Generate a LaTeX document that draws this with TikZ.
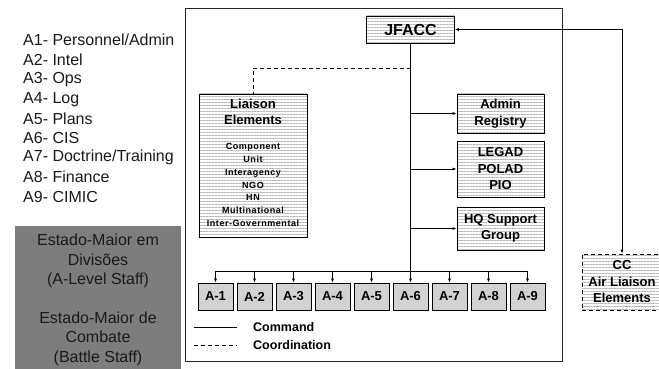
\documentclass[tikz,border=0pt]{standalone}
\usepackage{fontspec}
\setmainfont{Liberation Sans}
\usetikzlibrary{arrows.meta,patterns.meta}
\definecolor{staffgray}{HTML}{7D7D7D}
\definecolor{abgray}{HTML}{D2D2D2}
\definecolor{ink}{HTML}{1A1A1A}
\begin{document}
\begin{tikzpicture}[x=1pt,y=-1pt,
  stripe/.style={draw=black,line width=0.9pt,
    pattern={Lines[angle=0,distance=3pt,line width=0.7pt]},pattern color=black!28,
    inner sep=0pt,align=center,font=\bfseries\fontsize{13}{16.5}\selectfont},
  abox/.style={draw=black,line width=0.9pt,fill=abgray,minimum width=35pt,
    minimum height=27pt,inner sep=0pt,font=\bfseries\fontsize{13}{16}\selectfont},
  arr/.style={-{Latex[length=4pt,width=3pt]},line width=0.7pt},
  arrboth/.style={{Latex[length=4pt,width=3pt]}-{Latex[length=4pt,width=3pt]},line width=0.7pt},
  cmd/.style={line width=0.7pt},
  crd/.style={line width=0.7pt,dash pattern=on 4pt off 3pt},
  listtxt/.style={anchor=west,inner sep=0pt,text=ink,font=\fontsize{16}{19}\selectfont},
  stafftxt/.style={align=center,inner sep=0pt,text=ink,font=\fontsize{16}{19.5}\selectfont},
  legtxt/.style={anchor=west,inner sep=0pt,font=\bfseries\fontsize{12.5}{15}\selectfont}]
\useasboundingbox (0,0) rectangle (659,369);

% left list
\node[listtxt] (list1) at (23,40) {A1- Personnel/Admin};
\node[listtxt] (list2) at (23,60) {A2- Intel};
\node[listtxt] (list3) at (23,80) {A3- Ops};
\node[listtxt] (list4) at (23,99.5) {A4- Log};
\node[listtxt] (list5) at (23,118.5) {A5- Plans};
\node[listtxt] (list6) at (23,138) {A6- CIS};
\node[listtxt] (list7) at (23,157.5) {A7- Doctrine/Training};
\node[listtxt] (list8) at (23,177) {A8- Finance};
\node[listtxt] (list9) at (23,196.5) {A9- CIMIC};

% gray staff box
\node[fill=staffgray,minimum width=166pt,minimum height=146pt,anchor=north west,inner sep=0pt]
  (staff) at (15,226) {};
\node[stafftxt] (staffA) at (98,261) {Estado-Maior em\\Divisões\\(A-Level Staff)};
\node[stafftxt] (staffB) at (98,338.5) {Estado-Maior de\\Combate\\(Battle Staff)};

% frame
\node[draw=black!85,line width=1.2pt,minimum width=377pt,minimum height=353pt,
  anchor=north west,inner sep=0pt] (frame) at (185,8) {};

% boxes
\node[stripe,minimum width=88pt,minimum height=27pt,font=\bfseries\fontsize{16}{18}\selectfont]
  (jfacc) at (410.5,29.5) {JFACC};
\node[stripe,minimum width=108pt,minimum height=143pt] (liaison) at (253,165.5) {};
\node[align=center,inner sep=0pt,font=\bfseries\fontsize{13}{16}\selectfont]
  (liaisonT) at (253,112) {Liaison\\Elements};
\node[align=center,inner sep=0pt,font=\bfseries\fontsize{9}{12.8}\selectfont\addfontfeature{LetterSpace=6}]
  (liaisonL) at (253,185) {Component\\Unit\\Interagency\\NGO\\HN\\Multinational\\Inter-Governmental};
\node[stripe,minimum width=87pt,minimum height=39pt] (admin) at (500.5,113.5) {Admin\\Registry};
\node[stripe,minimum width=87pt,minimum height=56pt] (legad) at (500.5,169) {LEGAD\\POLAD\\PIO};
\node[stripe,minimum width=87pt,minimum height=43pt] (hq) at (500.5,228.5) {HQ Support\\Group};
\node[stripe,dash pattern=on 4pt off 3pt,minimum width=80pt,minimum height=56pt,
  font=\bfseries\fontsize{13}{16.5}\selectfont] (cc) at (622,282) {CC\\Air Liaison\\Elements};

\foreach \i in {1,...,9}
  \node[abox] (a\i) at ({215.5+39*(\i-1)},296.5) {A-\i};

% connectors
\coordinate (bus) at (0,271);
\coordinate (dj) at (410.5,68);
\draw[cmd] (jfacc.south) -- (jfacc.south |- bus);
\draw[cmd] (a1.north |- bus) -- (a9.north |- bus);
\foreach \i in {1,...,9}
  \draw[arr] (a\i.north |- bus) -- (a\i.north);
\draw[arr] (jfacc.south |- admin.west) -- (admin.west);
\draw[arr] (jfacc.south |- legad.west) -- (legad.west);
\draw[arr] (jfacc.south |- hq.west) -- (hq.west);
\draw[crd] (dj) -| (liaison.north);
\draw[arrboth] (jfacc.east) -| (cc.north);

% legend
\coordinate (cmdL) at (194,327);
\coordinate (cmdR) at (237,327);
\coordinate (crdL) at (194,345);
\coordinate (crdR) at (237,345);
\draw[cmd] (cmdL) -- (cmdR);
\draw[crd] (crdL) -- (crdR);
\node[legtxt] (cmdT) at (253,327) {Command};
\node[legtxt] (crdT) at (253,345) {Coordination};
\end{tikzpicture}
\end{document}
